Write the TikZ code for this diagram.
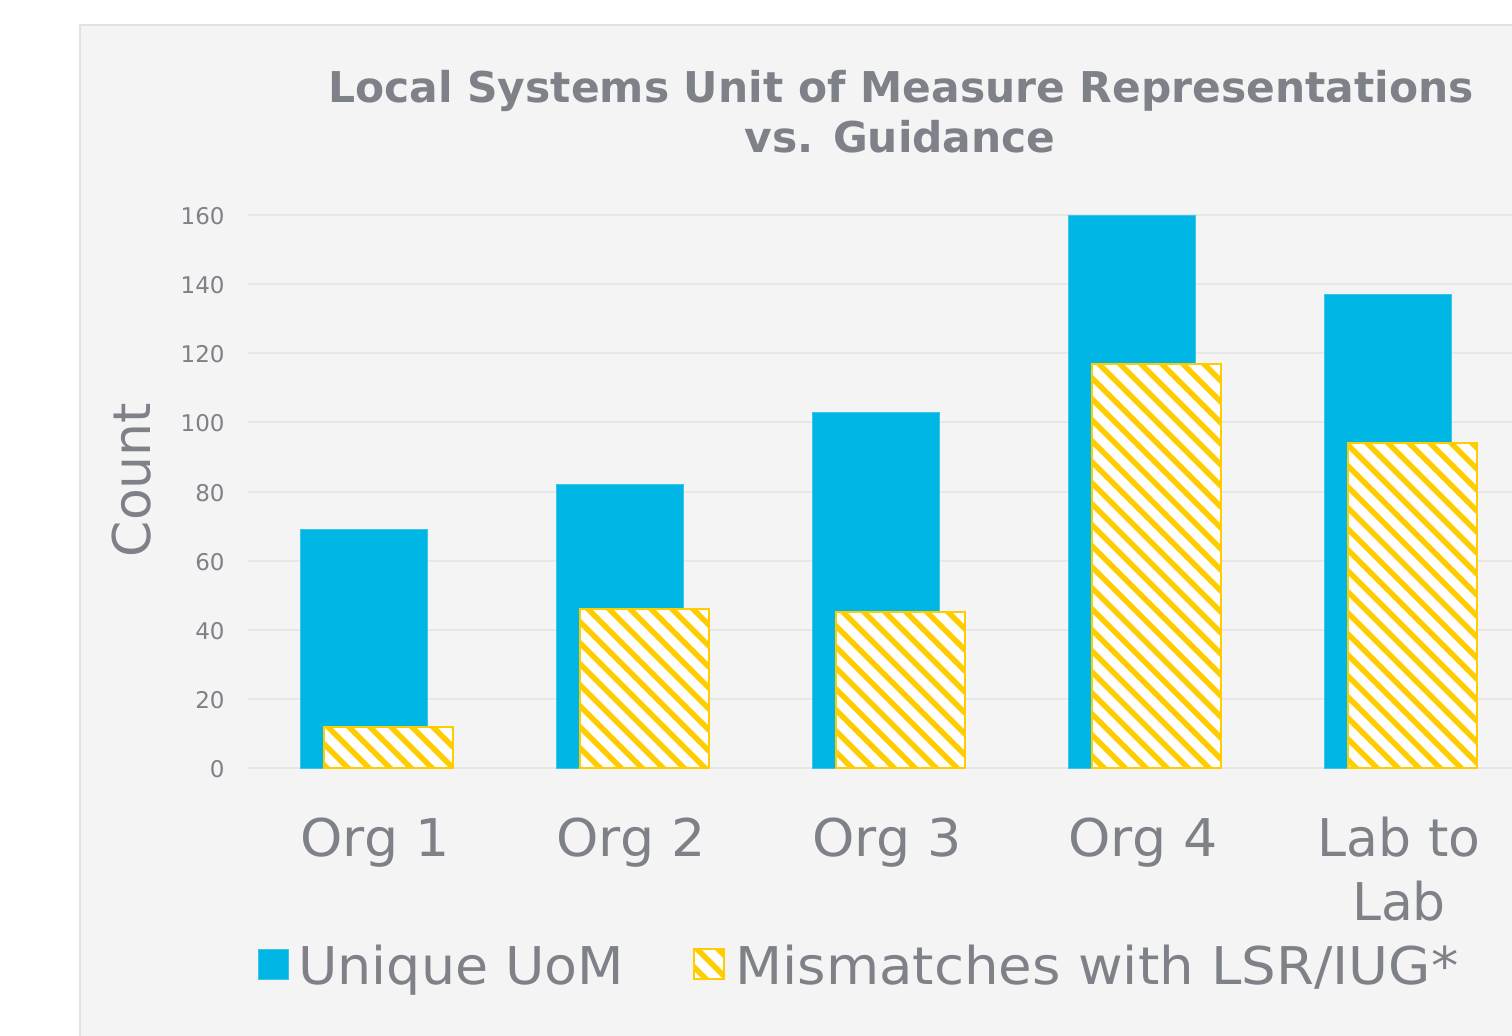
\documentclass[tikz,border=0pt]{standalone}
\usepackage{fontspec}
\setmainfont{DejaVu Sans}
\newfontfamily\widefont[FakeStretch=1.05]{DejaVu Sans}
\newfontfamily\orgfont[FakeStretch=1.035]{DejaVu Sans}
\definecolor{textgray}{HTML}{7F8188}
\definecolor{panelgray}{HTML}{F4F4F4}
\definecolor{panelborder}{HTML}{E2E2E2}
\definecolor{gridgray}{HTML}{E6E6E6}
\definecolor{barblue}{HTML}{00B6E4}
\definecolor{baredge}{HTML}{3CC3EA}
\definecolor{baryellow}{HTML}{FFCC00}
\begin{document}
\begin{tikzpicture}[x=0.5pt,y=-0.5pt,
  txt/.style={inner sep=0pt, text=textgray},
  tick/.style={txt, font=\fontsize{11.5}{14}\selectfont, anchor=base east},
  cat/.style={txt, font=\fontsize{26}{31}\selectfont, anchor=base},
  ttl/.style={txt, font=\fontsize{21.2}{25}\selectfont\bfseries, anchor=base},
  gridln/.style={draw=gridgray, line width=1pt},
  bluebar/.style={fill=barblue, draw=baredge, line width=0.5pt},
  hatchline/.style={draw=baryellow, line width=2.75pt},
  yelbox/.style={draw=baryellow, line width=1pt}]

\clip (0,0) rectangle (1512,1035);
\fill[white] (0,0) rectangle (1512,1035);
\filldraw[fill=panelgray, draw=panelborder, line width=0.75pt] (80,25) rectangle (1530,1050);

% title
\node[ttl] (title1) at (901,102) {Local Systems Unit of Measure Representations};
\node[ttl] (title2) at (900,152) {vs. Guidance};

% grid and ticks
\foreach \v in {0,20,...,160} {
  \draw[gridln] (248,{768-3.456*\v}) -- (1512,{768-3.456*\v});
  \node[tick] (t\v) at (225,{768-3.456*\v+9.5}) {\v};
}

% y label
\node[cat, rotate=90] (ylab) at (150,480) {Count};

% bars
\foreach \c/\b/\m in {375/69/12, 631/82/46, 887/103/45, 1143/160/117, 1399/137/94} {
  \fill[bluebar] ({\c-75},768) rectangle ({\c+52},{768-3.456*\b});
  \begin{scope}
    \clip ({\c-51},768) rectangle ({\c+78},{768-3.456*\m});
    \fill[white] ({\c-51},768) rectangle ({\c+78},{768-3.456*\m});
    \foreach \n in {-22,...,54} \draw[hatchline] ({21*\n},0) -- ++(1100,1100);
  \end{scope}
  \draw[yelbox] ({\c-51},768) rectangle ({\c+78},{768-3.456*\m});
}

% category labels
\node[cat] (c1) at (375,856) {\orgfont Org 1};
\node[cat] (c2) at (631,856) {\orgfont Org 2};
\node[cat] (c3) at (887,856) {\orgfont Org 3};
\node[cat] (c4) at (1143,856) {\orgfont Org 4};
\node[cat] (c5a) at (1399,856) {Lab to};
\node[cat] (c5b) at (1399,920) {Lab};

% legend
\fill[bluebar] (258,949) rectangle (288,979);
\node[cat, anchor=base west] (leg1) at (298,984) {\orgfont Unique UoM};
\begin{scope}
  \clip (694,949) rectangle (724,979);
  \fill[white] (694,949) rectangle (724,979);
  \foreach \n in {-22,...,54} \draw[hatchline] ({21*\n},0) -- ++(1100,1100);
\end{scope}
\draw[yelbox] (694,949) rectangle (724,979);
\node[cat, anchor=base west] (leg2) at (735,984) {\widefont Mismatches with LSR/IUG*};
\end{tikzpicture}
\end{document}
